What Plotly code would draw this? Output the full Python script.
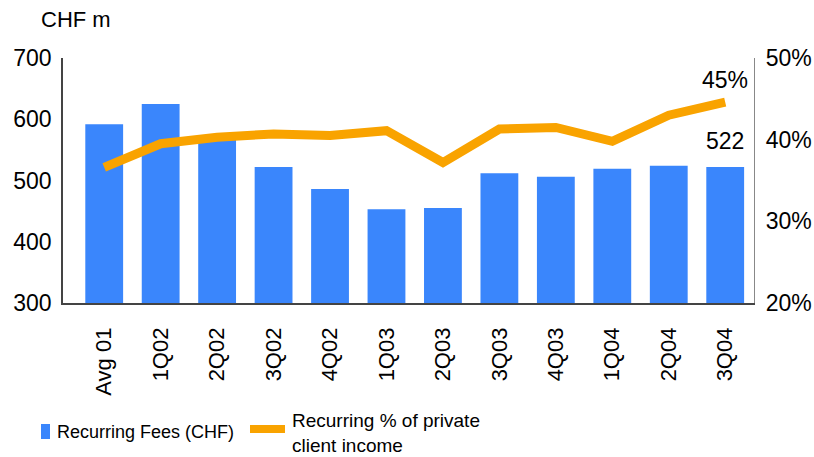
import plotly.graph_objects as go

# Quarterly recurring fees (CHF m) and recurring share of private client income (%)
quarters = ["Avg 01", "1Q02", "2Q02", "3Q02", "4Q02", "1Q03",
            "2Q03", "3Q03", "4Q03", "1Q04", "2Q04", "3Q04"]
recurring_fees = [592, 625, 568, 522, 486, 453, 455, 512, 506, 519, 524, 522]
recurring_pct = [36.6, 39.5, 40.3, 40.7, 40.5, 41.1, 37.2, 41.3, 41.5, 39.8, 43.0, 44.6]

left_ticks = [300, 400, 500, 600, 700]
right_ticks = [20, 30, 40, 50]

BLUE = "#3A86FC"
ORANGE = "#F9A300"
FONT = "Liberation Sans"

# plot area in pixels (for placing the hand-built legend)
W, H = 814, 457
L, R, T, B = 63, 60, 58, 154
PW, PH = W - L - R, H - T - B


def px(x):
    return (x - L) / PW


def py(y):
    return (H - B - y) / PH


fig = go.Figure()

fig.add_trace(go.Bar(
    x=quarters, y=recurring_fees, marker=dict(color=BLUE, line=dict(width=0)),
    width=0.67, name="Recurring Fees (CHF)", showlegend=False, yaxis="y",
))

fig.add_trace(go.Scatter(
    x=quarters, y=recurring_pct, mode="lines",
    line=dict(color=ORANGE, width=9), name="Recurring % of private client income",
    showlegend=False, yaxis="y2",
))

# value labels on the last quarter
fig.add_annotation(x=quarters[-1], y=recurring_pct[-1], xref="x", yref="y2",
                   text=f"{recurring_pct[-1]:.0f}%", showarrow=False, yshift=22,
                   font=dict(family=FONT, size=23, color="black"))
fig.add_annotation(x=quarters[-1], y=recurring_fees[-1], xref="x", yref="y",
                   text=f"{recurring_fees[-1]}", showarrow=False, yshift=26,
                   font=dict(family=FONT, size=23, color="black"))

# axis unit title
fig.add_annotation(x=px(39), y=py(19), xref="paper", yref="paper", xanchor="left",
                   yanchor="middle", text="CHF m", showarrow=False,
                   font=dict(family=FONT, size=22, color="black"))

# legend
fig.add_shape(type="rect", xref="paper", yref="paper",
              x0=px(41), x1=px(50), y0=py(439), y1=py(424),
              fillcolor=BLUE, line=dict(width=0))
fig.add_annotation(x=px(55), y=py(432), xref="paper", yref="paper", xanchor="left",
                   yanchor="middle", text="Recurring Fees (CHF)", showarrow=False,
                   font=dict(family=FONT, size=18, color="black"))
fig.add_shape(type="line", xref="paper", yref="paper",
              x0=px(250), x1=px(285), y0=py(429), y1=py(429),
              line=dict(color=ORANGE, width=8))
fig.add_annotation(x=px(290), y=py(433), xref="paper", yref="paper", xanchor="left",
                   yanchor="middle", align="left",
                   text="Recurring % of private<br>client income", showarrow=False,
                   font=dict(family=FONT, size=19, color="black"))

fig.update_layout(
    width=W, height=H,
    margin=dict(l=L, r=R, t=T, b=B),
    paper_bgcolor="white", plot_bgcolor="white",
    font=dict(family=FONT, size=22, color="black"),
    bargap=0.33,
    xaxis=dict(
        type="category", range=[-0.73, 11.51], tickangle=-90, automargin=False,
        showline=True, linecolor="#444", linewidth=1.5, ticks="",
        showgrid=False, zeroline=False, ticklabelstandoff=14,
        tickfont=dict(family=FONT, size=22, color="black"),
    ),
    yaxis=dict(
        range=[300, 700], tickvals=left_ticks, showline=True, linecolor="#444",
        linewidth=1.5, ticks="", showgrid=False, zeroline=False, automargin=False,
        ticklabelstandoff=5, tickfont=dict(family=FONT, size=23, color="black"),
    ),
    yaxis2=dict(
        range=[20, 50], tickvals=right_ticks,
        ticktext=[f"{v}%" for v in right_ticks], overlaying="y", automargin=False,
        side="right", showline=True, linecolor="#888", linewidth=1.2, ticks="",
        showgrid=False, zeroline=False, ticklabelstandoff=6,
        tickfont=dict(family=FONT, size=23, color="black"),
    ),
)

fig.write_html("out.html")
